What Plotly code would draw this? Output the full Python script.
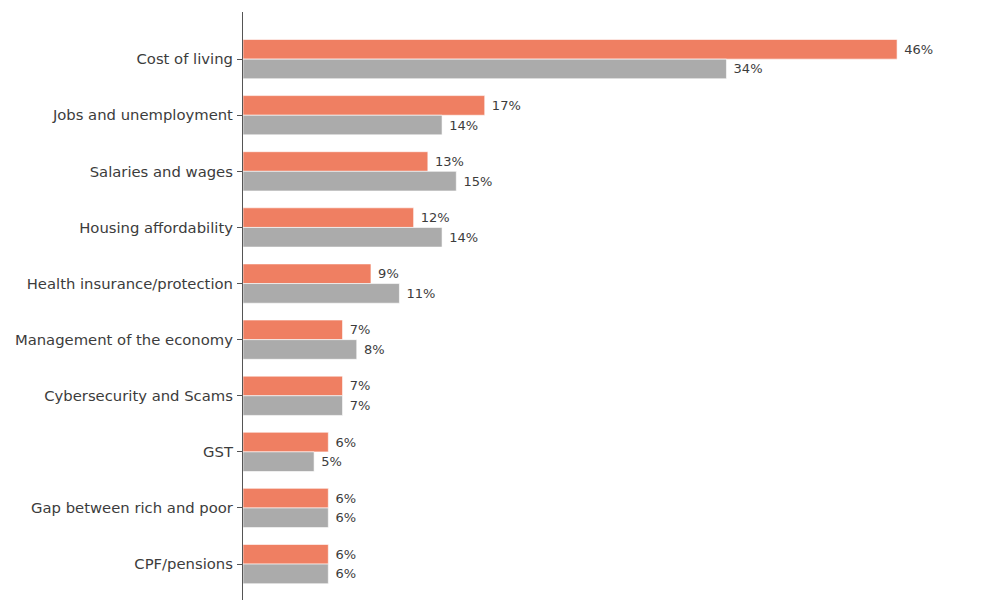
import plotly.graph_objects as go

categories = ["Cost of living", "Jobs and unemployment", "Salaries and wages",
              "Housing affordability", "Health insurance/protection",
              "Management of the economy", "Cybersecurity and Scams", "GST",
              "Gap between rich and poor", "CPF/pensions"]
series_a = [46, 17, 13, 12, 9, 7, 7, 6, 6, 6]
series_b = [34, 14, 15, 14, 11, 8, 7, 5, 6, 6]

fig = go.Figure()
for vals, color in [(series_a, "#EF7F62"), (series_b, "#ABABAB")]:
    fig.add_trace(go.Bar(
        y=categories, x=vals, orientation="h",
        marker=dict(color=color, line=dict(color="rgba(255,255,255,0.6)", width=1)),
        text=[f" {v}%" for v in vals], textposition="outside",
        textfont=dict(family="DejaVu Sans", size=13, color="#3c3c3c"),
        cliponaxis=False, showlegend=False,
    ))

fig.update_layout(
    width=1000, height=600,
    margin=dict(l=235, r=0, t=4, b=8, pad=0, autoexpand=False),
    paper_bgcolor="white", plot_bgcolor="white",
    barmode="group", bargap=0.3, bargroupgap=0,
    font=dict(family="DejaVu Sans", color="#3c3c3c"),
    xaxis=dict(range=[0, 53.8], visible=False, automargin=False),
    yaxis=dict(range=[9.64, -0.84], showline=True, linecolor="#555555", linewidth=1.2,
               ticks="outside", ticklen=5, tickcolor="#555555", tickwidth=1.2,
               showgrid=False, zeroline=False, ticklabelstandoff=1, automargin=False,
               tickfont=dict(family="DejaVu Sans", size=14.8, color="#3c3c3c")),
)
fig.write_html("out.html")
